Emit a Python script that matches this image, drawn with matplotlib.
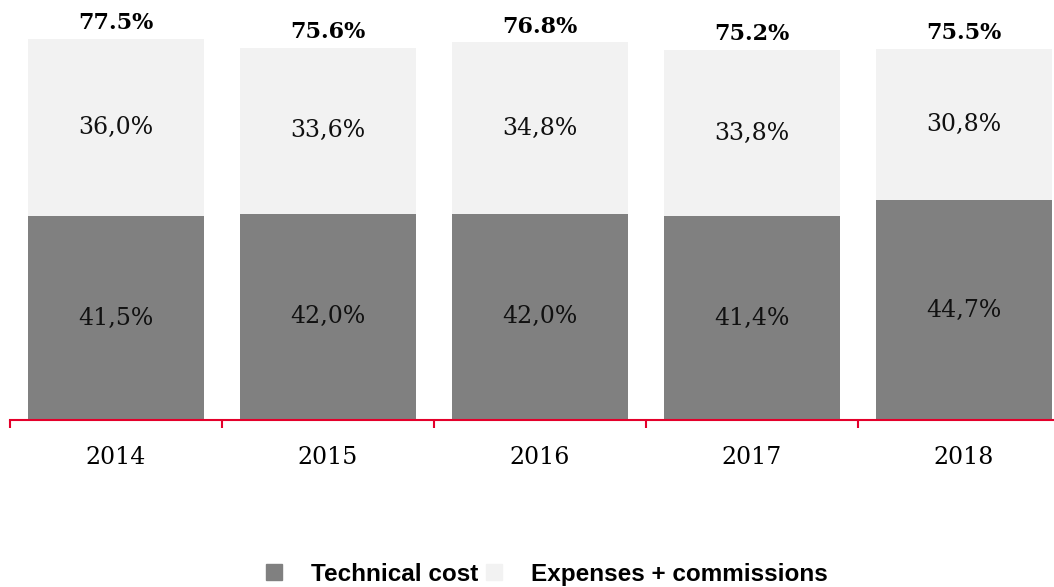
import numpy as np
import matplotlib.pyplot as plt
from matplotlib.patches import Patch

years = ['2014', '2015', '2016', '2017', '2018']
technical_cost = [41.5, 42.0, 42.0, 41.4, 44.7]
expenses_commissions = [36.0, 33.6, 34.8, 33.8, 30.8]
totals = [77.5, 75.6, 76.8, 75.2, 75.5]

dark = '#808080'
light = '#f2f2f2'
red = '#e4002b'

fig = plt.figure(figsize=(10.54, 5.87), dpi=100)
ax = fig.add_axes([10 / 1054, 167 / 587, 1 - 10 / 1054, 420 / 587])

x = np.arange(len(years))
width = 0.83
ax.bar(x, technical_cost, width, color=dark)
ax.bar(x, expenses_commissions, width, bottom=technical_cost, color=light)

for i in range(len(years)):
    ax.text(x[i], technical_cost[i] / 2, '{:.1f}%'.format(technical_cost[i]).replace('.', ','),
            ha='center', va='center', fontsize=17, family='DejaVu Serif', color='#111111')
    ax.text(x[i], technical_cost[i] + expenses_commissions[i] / 2,
            '{:.1f}%'.format(expenses_commissions[i]).replace('.', ','),
            ha='center', va='center', fontsize=17, family='DejaVu Serif', color='#111111')
    ax.text(x[i], totals[i] + 1.0, '{:.1f}%'.format(totals[i]),
            ha='center', va='bottom', fontsize=16, family='DejaVu Serif',
            fontweight='bold', color='black')

ax.set_xlim(-0.5, (1054 - 116) / 212)
ax.set_ylim(0, 420 / 4.916)

for s in ['top', 'right', 'left']:
    ax.spines[s].set_visible(False)
ax.spines['bottom'].set_color(red)
ax.spines['bottom'].set_linewidth(1.5)
ax.set_yticks([])

ax.set_xticks(x - 0.5)
ax.set_xticklabels([])
ax.tick_params(axis='x', which='major', direction='out', length=6, width=1.5, color=red)
ax.set_xticks(x, minor=True)
ax.set_xticklabels(years, minor=True, fontsize=17, family='DejaVu Serif')
ax.tick_params(axis='x', which='minor', length=0, pad=19)

handles = [Patch(color=dark, label='Technical cost'),
           Patch(color=light, label='Expenses + commissions')]
fig.legend(handles=handles, loc='lower center', bbox_to_anchor=(0.519, -0.035), ncol=2,
           frameon=False, handlelength=0.65, handleheight=0.65, handletextpad=1.2,
           columnspacing=0.3, prop={'family': 'Liberation Sans', 'weight': 'bold', 'size': 17.5})

fig.savefig('out.png', dpi=100)
